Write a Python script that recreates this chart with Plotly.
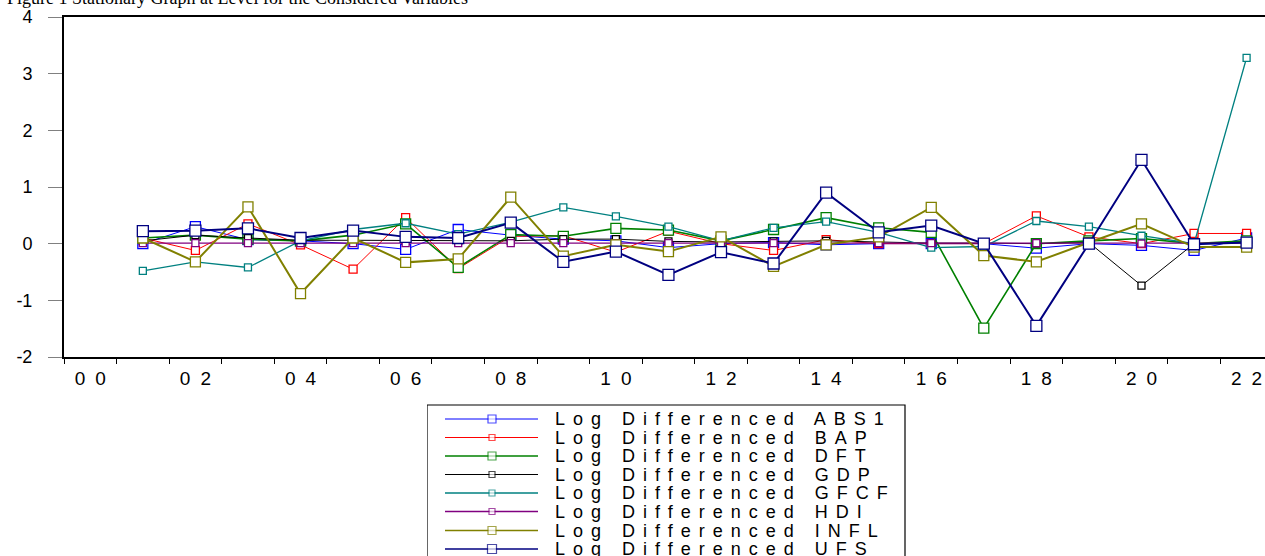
import plotly.graph_objects as go

W, H = 1265, 556

years = list(range(2001, 2023))

abs1 = [0.00, 0.30, 0.07, 0.05, 0.00, -0.10, 0.25, 0.15, 0.08, 0.05, -0.07, 0.00,
        0.02, -0.02, 0.00, 0.00, 0.00, -0.08, 0.00, -0.03, -0.12, 0.10]
bap = [0.10, -0.12, 0.35, -0.02, -0.45, 0.46, -0.44, 0.13, 0.14, -0.15, 0.22, 0.00,
       -0.12, 0.07, 0.00, 0.00, 0.00, 0.49, 0.12, 0.00, 0.18, 0.18]
dft = [0.10, 0.15, 0.08, 0.05, 0.15, 0.35, -0.42, 0.16, 0.13, 0.27, 0.24, 0.05,
       0.25, 0.46, 0.28, 0.20, -1.49, 0.00, 0.05, 0.09, 0.00, 0.05]
gdp = [0.05, 0.15, 0.10, 0.06, 0.06, 0.06, 0.05, 0.05, 0.08, 0.08, 0.04, 0.03,
       0.04, 0.05, 0.03, 0.01, 0.01, 0.00, 0.02, -0.74, 0.00, 0.02]
gfcf = [-0.48, -0.32, -0.42, 0.05, 0.25, 0.36, 0.17, 0.38, 0.64, 0.48, 0.30, 0.05,
        0.28, 0.39, 0.20, -0.07, -0.05, 0.40, 0.30, 0.14, 0.00, 3.28]
hdi = [0.01, 0.01, 0.01, 0.01, 0.01, 0.01, 0.01, 0.01, 0.01, 0.01, 0.01, 0.01,
       0.01, 0.01, 0.01, 0.01, 0.01, 0.01, 0.01, 0.00, 0.01, 0.01]
infl = [0.10, -0.32, 0.65, -0.88, 0.10, -0.33, -0.27, 0.82, -0.22, -0.02, -0.14, 0.12,
        -0.40, -0.02, 0.12, 0.64, -0.21, -0.32, 0.02, 0.35, -0.06, -0.06]
ufs = [0.22, 0.23, 0.27, 0.10, 0.23, 0.12, 0.10, 0.37, -0.32, -0.14, -0.55, -0.15,
       -0.35, 0.90, 0.20, 0.32, 0.00, -1.45, 0.00, 1.48, -0.01, 0.02]

names = ["Log Differenced ABS1", "Log Differenced BAP", "Log Differenced DFT",
         "Log Differenced GDP", "Log Differenced GFCF", "Log Differenced HDI",
         "Log Differenced INFL", "Log Differenced UFS"]
series = [abs1, bap, dft, gdp, gfcf, hdi, infl, ufs]
colors = ["#0000FF", "#FF0000", "#008000", "#000000", "#008080", "#800080", "#808000", "#000080"]
widths = [1.0, 1.0, 1.6, 1.0, 1.3, 1.4, 2.0, 2.0]
msizes = [10, 8, 10, 7, 7, 7, 10, 11]

tick_years = list(range(2000, 2023, 2))
tick_text = ["%02d" % (y % 100) for y in tick_years]
minor_vals = [y + 0.5 for y in range(1999, 2023)]
y_vals = [-2, -1, 0, 1, 2, 3, 4]
y_text = ["-2", "-1", "0", "1", "2", "3", "4"]

title_text = "Figure 1 Stationary Graph at Level for the Considered Variables"

# pixel geometry
PL, PR, PT, PB = 64, 1265, 17, 357
LEG_L, LEG_R, LEG_T = 427, 905, 405
leg_rows = [419, 437.5, 456, 474.5, 493, 511.5, 530.5, 549]


def spaced(t, ls):
    # letter-spaced text; last glyph without trailing spacing so centering stays true
    return '<span style="letter-spacing:%dpx">%s</span>%s' % (ls, t[:-1], t[-1])


fig = go.Figure()

for n, s, c, w, ms in zip(names, series, colors, widths, msizes):
    fig.add_trace(go.Scatter(
        x=years, y=s, mode="lines+markers", name=n, showlegend=False,
        line=dict(color=c, width=w),
        marker=dict(symbol="square", size=ms, color="white", line=dict(color=c, width=1.3)),
        xaxis="x", yaxis="y"))

# manual legend samples
for n, c, w, ms, ry in zip(names, colors, widths, msizes, leg_rows):
    fig.add_trace(go.Scatter(
        x=[445, 492, 538], y=[ry, ry, ry], mode="lines+markers", showlegend=False,
        hoverinfo="skip",
        line=dict(color=c, width=min(w, 1.3)),
        marker=dict(symbol="square", size=[0, max(ms - 2, 6), 0], color="white",
                    line=dict(color=c, width=1.2)),
        xaxis="x2", yaxis="y2"))

annotations = []
for n, ry in zip(names, leg_rows):
    annotations.append(dict(
        x=553, y=ry, xref="x2", yref="y2", xanchor="left", yanchor="middle",
        text=spaced(n, 8), showarrow=False,
        font=dict(family="Arial, Liberation Sans", size=18, color="black")))

shapes = [dict(type="rect", xref="x2", yref="y2", x0=LEG_L, x1=LEG_R, y0=LEG_T, y1=600,
               line=dict(color="black", width=1.2), fillcolor="rgba(0,0,0,0)", layer="below")]

fig.update_layout(
    width=W, height=H,
    margin=dict(l=0, r=0, t=0, b=0),
    paper_bgcolor="white", plot_bgcolor="white",
    title=dict(text=title_text, x=7 / W, xanchor="left", xref="paper",
               y=1 - 4 / H, yanchor="bottom", yref="container",
               font=dict(family="Liberation Serif, Times New Roman", size=18, color="black")),
    xaxis=dict(domain=[PL / W, 1], range=[1999.5, 1999.5 + (PR - PL) / 52.56],
               tickmode="array", tickvals=tick_years,
               ticktext=[spaced(t, 10) for t in tick_text],
               ticks="", ticklabelstandoff=3,
               minor=dict(tickmode="array", tickvals=minor_vals, ticks="outside",
                          ticklen=5, tickcolor="black", tickwidth=1),
               showgrid=False, zeroline=False, showline=True, linecolor="black",
               linewidth=1.5, mirror=True,
               tickfont=dict(family="Arial, Liberation Sans", size=19, color="black"),
               automargin=False, fixedrange=True),
    yaxis=dict(domain=[(H - PB) / H, (H - PT) / H], range=[-2, 4],
               tickmode="array", tickvals=y_vals, ticktext=y_text,
               ticks="outside", ticklen=14, tickcolor="#808080", tickwidth=1,
               ticklabelstandoff=12,
               showgrid=False, zeroline=False, showline=True, linecolor="black",
               linewidth=2, mirror=True,
               tickfont=dict(family="Arial, Liberation Sans", size=18, color="black"),
               automargin=False, fixedrange=True),
    xaxis2=dict(domain=[LEG_L / W, 1], range=[LEG_L, W], visible=False, fixedrange=True),
    yaxis2=dict(domain=[0, (H - LEG_T + 5) / H], range=[H, LEG_T - 5], visible=False,
                fixedrange=True),
    annotations=annotations,
    shapes=shapes,
)

fig.write_html("out.html", config={"displayModeBar": False},
               post_script="document.body.style.margin='0px';document.body.style.overflow='hidden';")
